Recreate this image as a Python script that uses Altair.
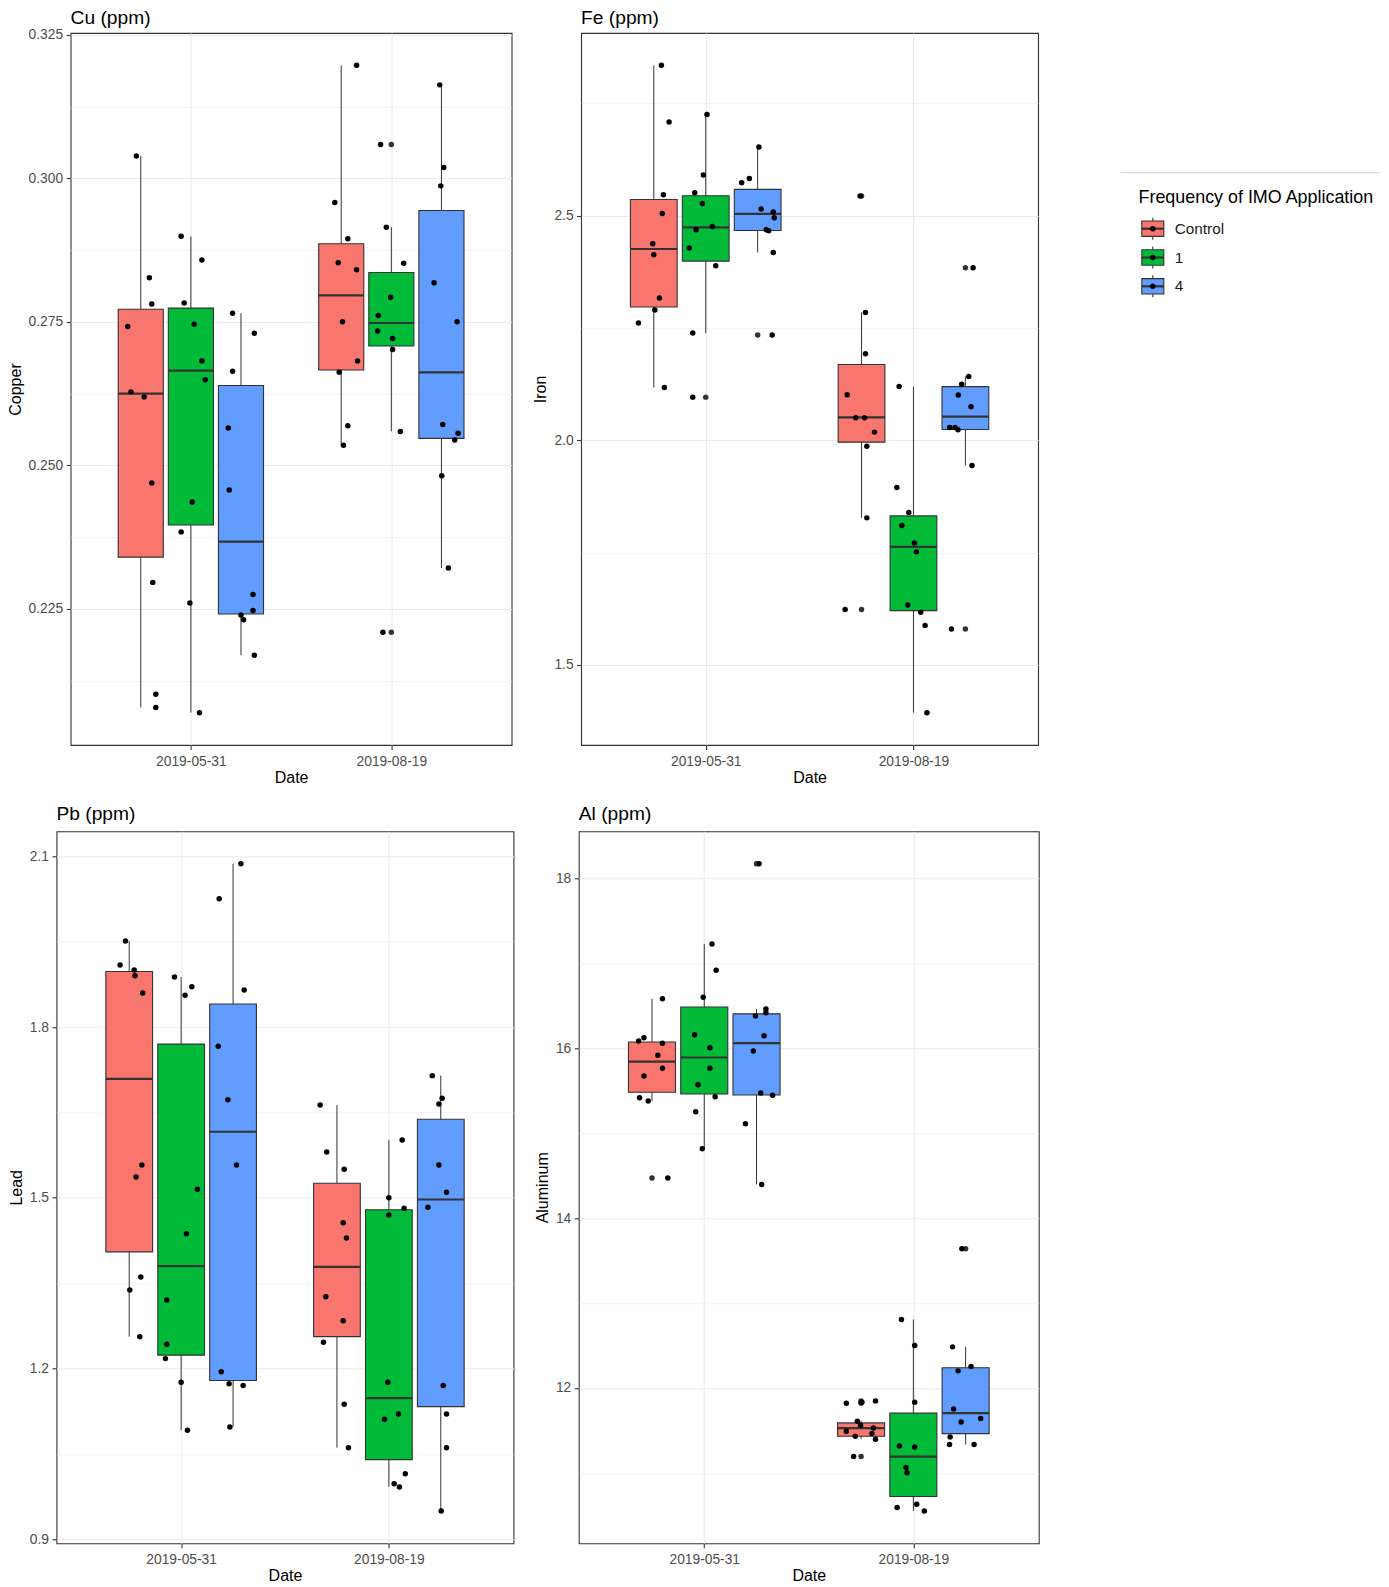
import math
import altair as alt
import pandas as pd

# ---------------- data ----------------
DATES = ["2019-05-31", "2019-08-19"]
GROUPS = ["Control", "1", "4"]
LEGEND_LABELS = ["Control", "1", "4"]
GROUP_COLORS = ["#F8766D", "#00BA38", "#619CFF"]
LEGEND_TITLE = "Frequency of IMO Application"
X_TITLE = "Date"

# box order: 2019-05-31 Control, 1, 4, then 2019-08-19 Control, 1, 4
CU_POINTS = [
    [0.3039, 0.2827, 0.2781, 0.2742, 0.2628, 0.2619, 0.2469, 0.2296, 0.2101, 0.2078],
    [0.2899, 0.2858, 0.2783, 0.2746, 0.2682, 0.2649, 0.2436, 0.2384, 0.2260, 0.2069],
    [0.2765, 0.2730, 0.2664, 0.2565, 0.2457, 0.2275, 0.2247, 0.2239, 0.2231, 0.2169],
    [0.3197, 0.2958, 0.2895, 0.2853, 0.2841, 0.2750, 0.2682, 0.2662, 0.2569, 0.2535],
    [0.3059, 0.2915, 0.2852, 0.2793, 0.2761, 0.2734, 0.2721, 0.2702, 0.2559, 0.2209],
    [0.3163, 0.3019, 0.2987, 0.2818, 0.2750, 0.2571, 0.2556, 0.2544, 0.2482, 0.2321],
]
# horizontal jitter of each point (fraction of the spacing between dates)
CU_JITTER = [
    [-0.022, 0.043, 0.055, -0.065, -0.049, 0.017, 0.055, 0.06, 0.075, 0.075],
    [-0.0485, 0.055, -0.0335, 0.0165, 0.055, 0.0715, 0.0065, -0.0485, -0.005, 0.043],
    [-0.042, 0.0665, -0.042, -0.0635, -0.0585, 0.06, 0.06, 0.0, 0.013, 0.0665],
    [0.0765, -0.032, 0.033, -0.015, 0.0765, 0.0065, 0.0815, -0.01, 0.033, 0.0115],
    [-0.0535, -0.025, 0.0615, -0.0035, -0.065, -0.0685, 0.0065, 0.0065, 0.045, -0.042],
    [-0.0085, 0.0115, -0.0035, -0.037, 0.078, 0.0065, 0.083, 0.0665, 0.0015, 0.035],
]
CU_LO = [0.2078, 0.2069, 0.2169, 0.2535, 0.2559, 0.2321]
CU_Q1 = [0.2340, 0.2396, 0.2241, 0.2666, 0.2708, 0.2547]
CU_MED = [0.2625, 0.2665, 0.2367, 0.2796, 0.2748, 0.2662]
CU_Q3 = [0.2772, 0.2774, 0.2639, 0.2886, 0.2836, 0.2944]
CU_HI = [0.3039, 0.2899, 0.2765, 0.3197, 0.2915, 0.3163]

FE_POINTS = [
    [2.8348, 2.7087, 2.5468, 2.5051, 2.4376, 2.4131, 2.3167, 2.2900, 2.2610, 2.1176],
    [2.7256, 2.5906, 2.5512, 2.5274, 2.4762, 2.4688, 2.4280, 2.3886, 2.2388, 2.0962],
    [2.6530, 2.5831, 2.5735, 2.5149, 2.5082, 2.4955, 2.4688, 2.4666, 2.4183, 2.2343],
    [2.5439, 2.2847, 2.1927, 2.1013, 2.0501, 2.0501, 2.0183, 1.9871, 1.8274, 1.6232],
    [2.1198, 1.8949, 1.8392, 1.8103, 1.7717, 1.7517, 1.6336, 1.6174, 1.5876, 1.3938],
    [2.3842, 2.1421, 2.1251, 2.1007, 2.0746, 2.0285, 2.0285, 2.0234, 1.9439, 1.5802],
]
FE_JITTER = [
    [0.0365, 0.0735, 0.046, 0.041, -0.005, 0.0, 0.027, 0.005, -0.074, 0.051],
    [0.006, -0.0115, -0.053, -0.016, 0.032, -0.0465, -0.079, 0.048, -0.0625, -0.0625],
    [0.006, -0.04, -0.077, 0.017, 0.075, 0.08, 0.041, 0.053, 0.075, 0.07],
    [-0.007, 0.019, 0.019, -0.069, -0.0275, 0.0145, 0.0625, 0.0255, 0.0255, -0.079],
    [-0.069, -0.08, -0.0225, -0.056, 0.005, 0.0145, -0.0275, 0.035, 0.056, 0.065],
    [0.037, 0.016, -0.018, -0.034, 0.027, -0.0755, -0.05, -0.0355, 0.032, -0.067],
]
FE_LO = [2.1176, 2.2388, 2.4183, 1.8274, 1.3938, 1.9439]
FE_Q1 = [2.2970, 2.3990, 2.4670, 1.9960, 1.6210, 2.0240]
FE_MED = [2.4260, 2.4740, 2.5040, 2.0510, 1.7630, 2.0530]
FE_Q3 = [2.5363, 2.5445, 2.5588, 2.1690, 1.8318, 2.1195]
FE_HI = [2.8348, 2.7256, 2.6530, 2.2847, 2.1198, 2.1421]

PB_POINTS = [
    [1.9512, 1.9090, 1.9003, 1.8902, 1.8598, 1.5577, 1.5366, 1.3609, 1.3381, 1.2560],
    [1.8880, 1.8709, 1.8558, 1.5150, 1.4370, 1.3205, 1.2427, 1.2174, 1.1759, 1.0916],
    [2.0870, 2.0255, 1.8651, 1.7662, 1.6724, 1.5577, 1.1945, 1.1734, 1.1700, 1.0974],
    [1.6631, 1.5805, 1.5501, 1.4563, 1.4294, 1.3263, 1.2841, 1.2462, 1.1373, 1.0610],
    [1.6016, 1.5002, 1.4816, 1.4698, 1.1759, 1.1202, 1.1109, 1.0153, 0.9977, 0.9920],
    [1.7146, 1.6748, 1.6648, 1.5577, 1.5097, 1.4834, 1.1700, 1.1202, 1.0610, 0.9498],
]
PB_JITTER = [
    [-0.018, -0.044, 0.024, 0.028, 0.065, 0.061, 0.033, 0.056, 0.003, 0.051],
    [-0.032, 0.0515, 0.019, 0.0785, 0.0255, -0.069, -0.069, -0.0755, 0.0, 0.0305],
    [0.0375, -0.067, 0.0535, -0.0715, -0.025, 0.0165, -0.057, -0.019, 0.0485, -0.0155],
    [-0.081, -0.049, 0.035, 0.03, 0.046, -0.0535, 0.03, -0.065, 0.035, 0.0555],
    [0.064, 0.0, 0.0735, 0.0, -0.005, 0.046, -0.021, 0.079, 0.0255, 0.051],
    [-0.041, 0.0065, -0.009, -0.009, 0.0275, -0.062, 0.0115, 0.0275, 0.0275, 0.002],
]
PB_LO = [1.2560, 1.0916, 1.0974, 1.0610, 0.9920, 0.9498]
PB_Q1 = [1.4050, 1.2235, 1.1790, 1.2560, 1.0400, 1.1330]
PB_MED = [1.7090, 1.3800, 1.6160, 1.3785, 1.1480, 1.4970]
PB_Q3 = [1.8975, 1.7700, 1.8405, 1.5255, 1.4790, 1.6380]
PB_HI = [1.9512, 1.8880, 2.0870, 1.6631, 1.6016, 1.7146]

AL_POINTS = [
    [16.5819, 16.1226, 16.0836, 16.0565, 15.9152, 15.7621, 15.6714, 15.4158, 15.3769, 14.4700],
    [17.2262, 16.9164, 16.5984, 16.1578, 16.0047, 15.7621, 15.5689, 15.4276, 15.2509, 14.8151],
    [18.1720, 16.4605, 16.4170, 16.3781, 16.1460, 15.9659, 15.4711, 15.4441, 15.1096, 14.3958],
    [11.8470, 11.8300, 11.8198, 11.6080, 11.5610, 11.5290, 11.4900, 11.4630, 11.4310, 11.3960, 11.1920],
    [12.8057, 12.5000, 11.8316, 11.3168, 11.3050, 11.0623, 11.0012, 10.6301, 10.5912, 10.5512],
    [13.6370, 12.4829, 12.2521, 12.2003, 11.7527, 11.6396, 11.5996, 11.4229, 11.3333, 11.3333],
]
AL_JITTER = [
    [0.05, -0.0385, -0.064, 0.05, 0.028, 0.05, -0.0385, -0.0595, -0.018, 0.0757],
    [0.037, 0.057, -0.005, -0.046, 0.027, 0.027, -0.03, 0.052, -0.041, -0.0095],
    [0.012, 0.045, 0.045, -0.005, 0.036, -0.015, 0.02, 0.077, -0.053, 0.025],
    [0.069, 0.004, -0.0705, -0.018, -0.0025, 0.0595, -0.0705, 0.052, -0.0276, 0.069, -0.0357],
    [-0.057, 0.0065, 0.0065, -0.0665, 0.0065, -0.035, -0.03, 0.016, -0.0775, 0.0525],
    [-0.018, -0.0625, 0.026, -0.036, -0.0575, 0.072, -0.0215, -0.074, -0.077, 0.0405],
]
AL_LO = [15.3769, 14.8151, 14.3958, 11.3960, 10.5512, 11.3333]
AL_Q1 = [15.4810, 15.4600, 15.4480, 11.4310, 10.7220, 11.4620]
AL_MED = [15.8420, 15.8900, 16.0580, 11.5260, 11.1900, 11.7030]
AL_Q3 = [16.0720, 16.4850, 16.4040, 11.5880, 11.7025, 12.2370]
AL_HI = [16.5819, 17.2262, 16.4605, 11.6100, 12.8057, 12.4829]

# ---------------- styling ----------------
FONT = "Liberation Sans"
DARK = "#333333"
color_scale = alt.Scale(domain=GROUPS, range=GROUP_COLORS)
DODGE = 0.25       # distance between dodged boxes (date spacing = 1)
HALF_BOX = 0.1125  # half width of a box
PT_SIZE = 30
XC = (f"indexof({DATES!r}, datum.date) + 1 + "
      f"(indexof({GROUPS!r}, datum.group) - 1) * {DODGE}")


def panel(points, jitter, lo, q1, med, q3, hi, title, ytitle, step, fmt,
          width, height, title_y):
    combos = [(d, g) for d in DATES for g in GROUPS]
    rows = []
    for (d, g), vals, jit, l, h in zip(combos, points, jitter, lo, hi):
        for v, j in zip(vals, jit):
            rows.append(dict(date=d, group=g, value=v, jitter=j, lo=l, hi=h))
    pts = pd.DataFrame(rows)
    stats = pd.DataFrame(dict(date=[c[0] for c in combos],
                              group=[c[1] for c in combos],
                              lo=lo, q1=q1, med=med, q3=q3, hi=hi))
    vmin = min(pts["value"].min(), min(lo))
    vmax = max(pts["value"].max(), max(hi))
    span = vmax - vmin
    dom = [vmin - 0.05 * span, vmax + 0.05 * span]
    tol = 0.002 * span
    pts["outlier"] = (pts["value"] < pts["lo"] - tol) | (pts["value"] > pts["hi"] + tol)

    half = step / 2
    tick_vals = [round(k * half, 6)
                 for k in range(math.ceil(dom[0] / half), math.floor(dom[1] / half) + 1)]
    test = f"abs(datum.value / {step} - round(datum.value / {step})) < 0.01"
    yaxis = alt.Axis(
        values=tick_vals, title=ytitle, labelOverlap=False,
        labelExpr=f"({test}) ? format(datum.value, '{fmt}') : ''",
        tickOpacity={"condition": {"test": test, "value": 1}, "value": 0},
        gridWidth={"condition": {"test": test, "value": 1.1}, "value": 0.55},
    )
    yscale = alt.Scale(domain=dom, nice=False, zero=False)
    xscale = alt.Scale(domain=[0.4, 2.6], nice=False, zero=False)
    xaxis = alt.Axis(values=[1, 2], title=X_TITLE, labelFlush=False, labelOverlap=False,
                     labelExpr=f"{DATES!r}[round(datum.value) - 1]")

    def X(f):
        return alt.X(f, scale=xscale, axis=xaxis)

    def Y(f):
        return alt.Y(f, scale=yscale, axis=yaxis)

    sbase = alt.Chart(stats).transform_calculate(
        xc=XC, xl=f"datum.xc - {HALF_BOX}", xr=f"datum.xc + {HALF_BOX}")
    whisk = sbase.mark_rule(color=DARK, strokeWidth=1.0).encode(
        x=X("xc:Q"), y=Y("lo:Q"), y2="hi:Q")
    box = sbase.mark_rect(stroke=DARK, strokeWidth=1.1).encode(
        x=X("xl:Q"), x2="xr:Q", y=Y("q1:Q"), y2="q3:Q",
        fill=alt.Fill("group:N", scale=color_scale, legend=None))
    medl = sbase.mark_rule(color=DARK, strokeWidth=2.2).encode(
        x=X("xl:Q"), x2="xr:Q", y=Y("med:Q"))
    outl = alt.Chart(pts).transform_filter("datum.outlier").transform_calculate(
        xc=XC).mark_circle(color=DARK, size=PT_SIZE, opacity=1).encode(
        x=X("xc:Q"), y=Y("value:Q"))
    dots = alt.Chart(pts).transform_calculate(
        xc=XC, xj="datum.xc + datum.jitter").mark_circle(
        color="black", size=PT_SIZE, opacity=1).encode(x=X("xj:Q"), y=Y("value:Q"))
    ttl = alt.Chart(pd.DataFrame({"t": [title]})).mark_text(
        align="left", baseline="alphabetic", fontSize=19.2, color="black").encode(
        x=alt.value(0), y=alt.value(title_y), text="t:N")

    return alt.layer(whisk, box, medl, outl, dots, ttl).properties(
        width=width, height=height)


cu = panel(CU_POINTS, CU_JITTER, CU_LO, CU_Q1, CU_MED, CU_Q3, CU_HI,
           "Cu (ppm)", "Copper", 0.025, ".3f", 441, 712, -9)
fe = panel(FE_POINTS, FE_JITTER, FE_LO, FE_Q1, FE_MED, FE_Q3, FE_HI,
           "Fe (ppm)", "Iron", 0.5, ".1f", 457, 712, -9)
pb = panel(PB_POINTS, PB_JITTER, PB_LO, PB_Q1, PB_MED, PB_Q3, PB_HI,
           "Pb (ppm)", "Lead", 0.3, ".1f", 457, 712, -11.8)
al = panel(AL_POINTS, AL_JITTER, AL_LO, AL_Q1, AL_MED, AL_Q3, AL_HI,
           "Al (ppm)", "Aluminum", 2, "d", 460, 712, -11.8)

# ---------------- legend drawn as a small chart ----------------
leg_df = pd.DataFrame({"group": GROUPS, "label": LEGEND_LABELS})
ttl_df = pd.DataFrame({"t": [LEGEND_TITLE]})
ky = alt.Y("group:N", axis=None,
           scale=alt.Scale(type="point", domain=GROUPS, range=[195.7, 253.3], padding=0))
kx = alt.value(32)
lbase = alt.Chart(leg_df)
k_whisk = lbase.mark_point(shape="M0,-1V1", size=484, filled=False, color=DARK,
                           strokeWidth=1.1, opacity=1).encode(x=kx, y=ky)
k_box = lbase.mark_point(shape="M-1,-0.7H1V0.7H-1Z", size=484, filled=True,
                         stroke=DARK, strokeWidth=1.1, opacity=1).encode(
    x=kx, y=ky, fill=alt.Fill("group:N", scale=color_scale, legend=None))
k_med = lbase.mark_point(shape="M-1,0H1", size=484, filled=False, color=DARK,
                         strokeWidth=2.2, opacity=1).encode(x=kx, y=ky)
k_dot = lbase.mark_circle(size=PT_SIZE, color="black", opacity=1).encode(x=kx, y=ky)
k_lab = lbase.mark_text(align="left", baseline="middle", fontSize=15.3,
                        color="#1A1A1A").encode(x=alt.value(54), y=ky, text="label:N")
k_ttl = alt.Chart(ttl_df).mark_text(align="left", baseline="alphabetic", fontSize=17.9,
                                    color="black").encode(
    x=alt.value(17.7), y=alt.value(170.3), text="t:N")
k_sep = alt.Chart(ttl_df).mark_rule(color="#D9D9D9", strokeWidth=1.3).encode(
    x=alt.value(0), x2=alt.value(259), y=alt.value(139.7))
legend = alt.layer(k_sep, k_ttl, k_whisk, k_box, k_med, k_dot, k_lab).properties(
    width=259, height=280, view=alt.ViewBackground(stroke=None))

# invisible 1px spacer so the Cu panel can sit further right than the Pb panel
spacer = alt.Chart(pd.DataFrame({"s": [0]})).mark_point(opacity=0, size=1).properties(
    width=1, height=1, view=alt.ViewBackground(stroke=None))

cu_cell = alt.hconcat(spacer, cu, spacing=-51.9)
row1 = alt.hconcat(cu_cell, fe, spacing=19.6)
row2 = alt.hconcat(pb, al, spacing=19.3)
grid = alt.vconcat(row1, row2, spacing=17.3)

chart = alt.hconcat(grid, legend, spacing=80.3).properties(
    padding={"left": -1.5, "top": 0, "right": 0, "bottom": 0}
).configure(font=FONT).configure_view(
    stroke=DARK, strokeWidth=1.1
).configure_axis(
    domain=False, tickColor=DARK, tickWidth=1.1, tickSize=4.5,
    labelColor="#4D4D4D", labelFontSize=13.8, labelFont=FONT,
    titleFontSize=16, titleFontWeight="normal", titleColor="black", titleFont=FONT,
    gridColor="#EBEBEB", gridWidth=1.1,
).configure_axisX(
    labelPadding=4.5, titlePadding=1.2
).configure_axisY(
    labelPadding=3.5, titlePadding=5
)

chart.save("out.html", embed_options={"renderer": "svg", "actions": False})
